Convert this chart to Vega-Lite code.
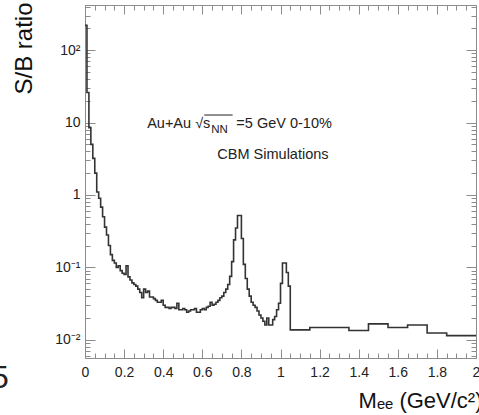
{
  "$schema": "https://vega.github.io/schema/vega-lite/v6.json",
  "width": 391,
  "height": 353,
  "autosize": "none",
  "padding": {"left": 85, "top": 5, "right": 3, "bottom": 57},
  "config": {
    "view": {"stroke": null},
    "font": "Liberation Sans",
    "axis": {
      "grid": false,
      "domainColor": "#8c8c8c",
      "tickColor": "#8c8c8c",
      "labelFont": "Liberation Sans",
      "labelFontSize": 14,
      "labelColor": "#222222",
      "titleFont": "Liberation Sans",
      "titleFontWeight": "normal",
      "titleColor": "#111111"
    }
  },
  "datasets": {
    "hist": [
      {"m": 0.00, "sb": 220}, {"m": 0.01, "sb": 26}, {"m": 0.02, "sb": 8.5}, {"m": 0.03, "sb": 5.0},
      {"m": 0.04, "sb": 3.2}, {"m": 0.05, "sb": 2.0}, {"m": 0.06, "sb": 1.1}, {"m": 0.07, "sb": 0.9},
      {"m": 0.08, "sb": 0.68}, {"m": 0.09, "sb": 0.5}, {"m": 0.10, "sb": 0.36}, {"m": 0.11, "sb": 0.28},
      {"m": 0.12, "sb": 0.2}, {"m": 0.13, "sb": 0.15}, {"m": 0.14, "sb": 0.125}, {"m": 0.15, "sb": 0.115},
      {"m": 0.16, "sb": 0.1}, {"m": 0.17, "sb": 0.105}, {"m": 0.18, "sb": 0.09}, {"m": 0.19, "sb": 0.083},
      {"m": 0.20, "sb": 0.08}, {"m": 0.21, "sb": 0.105}, {"m": 0.22, "sb": 0.074}, {"m": 0.23, "sb": 0.067},
      {"m": 0.24, "sb": 0.061}, {"m": 0.25, "sb": 0.058}, {"m": 0.26, "sb": 0.055}, {"m": 0.27, "sb": 0.05},
      {"m": 0.28, "sb": 0.045}, {"m": 0.29, "sb": 0.038}, {"m": 0.30, "sb": 0.05}, {"m": 0.31, "sb": 0.045},
      {"m": 0.32, "sb": 0.047}, {"m": 0.33, "sb": 0.039}, {"m": 0.34, "sb": 0.039}, {"m": 0.35, "sb": 0.037},
      {"m": 0.36, "sb": 0.035}, {"m": 0.37, "sb": 0.033}, {"m": 0.38, "sb": 0.033}, {"m": 0.39, "sb": 0.035},
      {"m": 0.40, "sb": 0.03}, {"m": 0.41, "sb": 0.028}, {"m": 0.42, "sb": 0.028}, {"m": 0.43, "sb": 0.027},
      {"m": 0.44, "sb": 0.028}, {"m": 0.45, "sb": 0.028}, {"m": 0.46, "sb": 0.027}, {"m": 0.47, "sb": 0.032},
      {"m": 0.48, "sb": 0.026}, {"m": 0.49, "sb": 0.026}, {"m": 0.50, "sb": 0.027}, {"m": 0.51, "sb": 0.026},
      {"m": 0.52, "sb": 0.024}, {"m": 0.53, "sb": 0.025}, {"m": 0.54, "sb": 0.026}, {"m": 0.55, "sb": 0.026},
      {"m": 0.56, "sb": 0.027}, {"m": 0.57, "sb": 0.024}, {"m": 0.58, "sb": 0.024}, {"m": 0.59, "sb": 0.026},
      {"m": 0.60, "sb": 0.027}, {"m": 0.61, "sb": 0.026}, {"m": 0.62, "sb": 0.028}, {"m": 0.63, "sb": 0.029},
      {"m": 0.64, "sb": 0.033}, {"m": 0.65, "sb": 0.030}, {"m": 0.66, "sb": 0.031}, {"m": 0.67, "sb": 0.033},
      {"m": 0.68, "sb": 0.035}, {"m": 0.69, "sb": 0.038}, {"m": 0.70, "sb": 0.040}, {"m": 0.71, "sb": 0.045},
      {"m": 0.72, "sb": 0.05}, {"m": 0.73, "sb": 0.058}, {"m": 0.74, "sb": 0.075}, {"m": 0.75, "sb": 0.12},
      {"m": 0.76, "sb": 0.24}, {"m": 0.77, "sb": 0.35}, {"m": 0.78, "sb": 0.52}, {"m": 0.79, "sb": 0.52},
      {"m": 0.80, "sb": 0.25}, {"m": 0.81, "sb": 0.11}, {"m": 0.82, "sb": 0.07}, {"m": 0.83, "sb": 0.05},
      {"m": 0.84, "sb": 0.04}, {"m": 0.85, "sb": 0.033}, {"m": 0.86, "sb": 0.03}, {"m": 0.87, "sb": 0.028},
      {"m": 0.88, "sb": 0.025}, {"m": 0.89, "sb": 0.022}, {"m": 0.90, "sb": 0.02}, {"m": 0.91, "sb": 0.018},
      {"m": 0.92, "sb": 0.016}, {"m": 0.93, "sb": 0.02}, {"m": 0.94, "sb": 0.016}, {"m": 0.95, "sb": 0.016},
      {"m": 0.96, "sb": 0.019}, {"m": 0.97, "sb": 0.021}, {"m": 0.98, "sb": 0.026}, {"m": 0.99, "sb": 0.032},
      {"m": 1.00, "sb": 0.06}, {"m": 1.01, "sb": 0.115}, {"m": 1.02, "sb": 0.115}, {"m": 1.03, "sb": 0.085},
      {"m": 1.04, "sb": 0.055}, {"m": 1.05, "sb": 0.0137}, {"m": 1.15, "sb": 0.0148}, {"m": 1.35, "sb": 0.0134},
      {"m": 1.45, "sb": 0.0166}, {"m": 1.55, "sb": 0.0148}, {"m": 1.65, "sb": 0.016}, {"m": 1.75, "sb": 0.0124},
      {"m": 1.85, "sb": 0.0114}, {"m": 2.00, "sb": 0.0114}
    ]
  },
  "resolve": {"axis": {"x": "independent", "y": "independent"}},
  "layer": [
    {
      "data": {"name": "hist"},
      "mark": {"type": "line", "interpolate": "step-after", "color": "#333333", "strokeWidth": 1.6, "clip": true},
      "encoding": {
        "x": {
          "field": "m", "type": "quantitative",
          "scale": {"domain": [0, 2], "nice": false, "zero": false},
          "axis": {
            "orient": "bottom",
            "values": [0, 0.2, 0.4, 0.6, 0.8, 1, 1.2, 1.4, 1.6, 1.8, 2],
            "format": ".1~f",
            "tickSize": -9,
            "labelPadding": 16,
            "labelFlush": false,
            "labelOverlap": false,
            "title": "Mₑₑ (GeV/c²)",
            "titleFontSize": 22,
            "titleAlign": "right",
            "titleAnchor": "end",
            "titleBaseline": "alphabetic",
            "titleX": 397,
            "titleY": 49
          }
        },
        "y": {
          "field": "sb", "type": "quantitative",
          "scale": {"type": "log", "domain": [0.0056, 420], "nice": false},
          "axis": {
            "orient": "left",
            "values": [0.01, 0.1, 1, 10, 100],
            "labelExpr": "round(log(datum.value)/LN10) == 2 ? '10²' : round(log(datum.value)/LN10) == 1 ? '10' : round(log(datum.value)/LN10) == 0 ? '1' : round(log(datum.value)/LN10) == -1 ? '10⁻¹' : '10⁻²'",
            "tickSize": -10,
            "labelPadding": 15,
            "labelFlush": false,
            "labelOverlap": false,
            "title": "S/B ratio",
            "titleFontSize": 24,
            "titleAngle": -90,
            "titleAlign": "right",
            "titleAnchor": "end",
            "titleBaseline": "alphabetic",
            "titleX": -54,
            "titleY": -3
          }
        }
      }
    },
    {
      "data": {"name": "hist"},
      "mark": {"type": "line", "opacity": 0},
      "encoding": {
        "x": {
          "field": "m", "type": "quantitative",
          "scale": {"domain": [0, 2], "nice": false, "zero": false},
          "axis": {
            "orient": "bottom",
            "values": [0.05, 0.1, 0.15, 0.25, 0.3, 0.35, 0.45, 0.5, 0.55, 0.65, 0.7, 0.75, 0.85, 0.9, 0.95, 1.05, 1.1, 1.15, 1.25, 1.3, 1.35, 1.45, 1.5, 1.55, 1.65, 1.7, 1.75, 1.85, 1.9, 1.95],
            "labels": false, "tickSize": -5, "title": null
          }
        },
        "y": {
          "field": "sb", "type": "quantitative",
          "scale": {"type": "log", "domain": [0.0056, 420], "nice": false},
          "axis": {
            "orient": "left",
            "values": [0.006, 0.007, 0.008, 0.009, 0.02, 0.03, 0.04, 0.05, 0.06, 0.07, 0.08, 0.09, 0.2, 0.3, 0.4, 0.5, 0.6, 0.7, 0.8, 0.9, 2, 3, 4, 5, 6, 7, 8, 9, 20, 30, 40, 50, 60, 70, 80, 90, 200, 300, 400],
            "labels": false, "tickSize": -5, "title": null
          }
        }
      }
    },
    {
      "data": {"name": "hist"},
      "mark": {"type": "line", "opacity": 0},
      "encoding": {
        "x": {
          "field": "m", "type": "quantitative",
          "scale": {"domain": [0, 2], "nice": false, "zero": false},
          "axis": {
            "orient": "top",
            "values": [0, 0.2, 0.4, 0.6, 0.8, 1, 1.2, 1.4, 1.6, 1.8, 2],
            "labels": false, "tickSize": -9, "title": null
          }
        },
        "y": {
          "field": "sb", "type": "quantitative",
          "scale": {"type": "log", "domain": [0.0056, 420], "nice": false},
          "axis": {
            "orient": "right",
            "values": [0.01, 0.1, 1, 10, 100],
            "labels": false, "tickSize": -10, "title": null
          }
        }
      }
    },
    {
      "data": {"name": "hist"},
      "mark": {"type": "line", "opacity": 0},
      "encoding": {
        "x": {
          "field": "m", "type": "quantitative",
          "scale": {"domain": [0, 2], "nice": false, "zero": false},
          "axis": {
            "orient": "top",
            "values": [0.05, 0.1, 0.15, 0.25, 0.3, 0.35, 0.45, 0.5, 0.55, 0.65, 0.7, 0.75, 0.85, 0.9, 0.95, 1.05, 1.1, 1.15, 1.25, 1.3, 1.35, 1.45, 1.5, 1.55, 1.65, 1.7, 1.75, 1.85, 1.9, 1.95],
            "labels": false, "tickSize": -5, "title": null
          }
        },
        "y": {
          "field": "sb", "type": "quantitative",
          "scale": {"type": "log", "domain": [0.0056, 420], "nice": false},
          "axis": {
            "orient": "right",
            "values": [0.006, 0.007, 0.008, 0.009, 0.02, 0.03, 0.04, 0.05, 0.06, 0.07, 0.08, 0.09, 0.2, 0.3, 0.4, 0.5, 0.6, 0.7, 0.8, 0.9, 2, 3, 4, 5, 6, 7, 8, 9, 20, 30, 40, 50, 60, 70, 80, 90, 200, 300, 400],
            "labels": false, "tickSize": -5, "title": null
          }
        }
      }
    },
    {
      "data": {"values": [
        {"m": 0.318, "sb": 8.4, "label": "Au+Au √s"},
        {"m": 0.774, "sb": 8.4, "label": "=5 GeV 0-10%"},
        {"m": 0.677, "sb": 3.14, "label": "CBM Simulations"}
      ]},
      "mark": {"type": "text", "align": "left", "baseline": "alphabetic", "fontSize": 14.5, "font": "Liberation Sans", "color": "#222222"},
      "encoding": {
        "x": {"field": "m", "type": "quantitative", "scale": {"domain": [0, 2], "nice": false, "zero": false}, "axis": null},
        "y": {"field": "sb", "type": "quantitative", "scale": {"type": "log", "domain": [0.0056, 420], "nice": false}, "axis": null},
        "text": {"field": "label"}
      }
    },
    {
      "data": {"values": [{"m": 0.646, "sb": 7.2, "label": "NN"}]},
      "mark": {"type": "text", "align": "left", "baseline": "alphabetic", "fontSize": 11.5, "font": "Liberation Sans", "color": "#222222"},
      "encoding": {
        "x": {"field": "m", "type": "quantitative", "scale": {"domain": [0, 2], "nice": false, "zero": false}, "axis": null},
        "y": {"field": "sb", "type": "quantitative", "scale": {"type": "log", "domain": [0.0056, 420], "nice": false}, "axis": null},
        "text": {"field": "label"}
      }
    },
    {
      "data": {"values": [{"m": 0.61, "m2": 0.755, "sb": 12.7}]},
      "mark": {"type": "rule", "color": "#222222", "strokeWidth": 1},
      "encoding": {
        "x": {"field": "m", "type": "quantitative", "scale": {"domain": [0, 2], "nice": false, "zero": false}, "axis": null},
        "x2": {"field": "m2"},
        "y": {"field": "sb", "type": "quantitative", "scale": {"type": "log", "domain": [0.0056, 420], "nice": false}, "axis": null}
      }
    },
    {
      "data": {"values": [{"m": -0.39, "sb": 0.00218, "label": "5"}]},
      "mark": {"type": "text", "align": "right", "baseline": "alphabetic", "fontSize": 32, "font": "Liberation Sans", "color": "#222222", "clip": false},
      "encoding": {
        "x": {"field": "m", "type": "quantitative", "scale": {"domain": [0, 2], "nice": false, "zero": false}, "axis": null},
        "y": {"field": "sb", "type": "quantitative", "scale": {"type": "log", "domain": [0.0056, 420], "nice": false}, "axis": null},
        "text": {"field": "label"}
      }
    }
  ]
}
